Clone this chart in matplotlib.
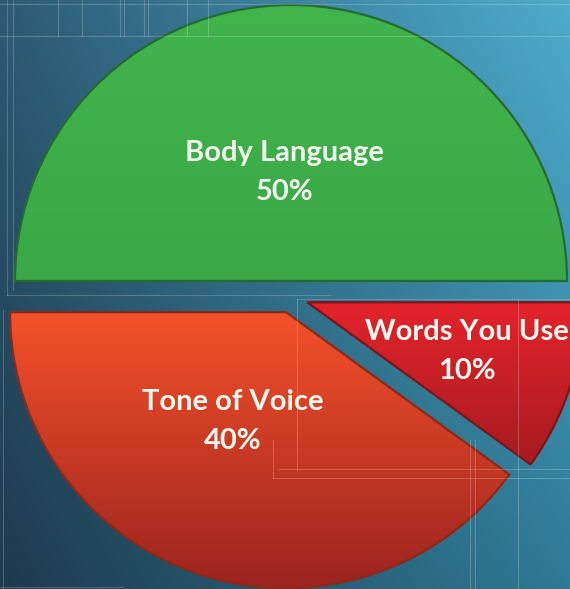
import numpy as np
import matplotlib
matplotlib.use("Agg")
import matplotlib.pyplot as plt
from matplotlib.colors import to_rgb

# ---- data ----
categories = ["Body Language", "Tone of Voice", "Words You Use"]
values = [50, 40, 10]
explode = [0.058, 0.058, 0.062]

# ---- style ----
top_colors = ["#42b44c", "#f4512a", "#e4232c"]
bottom_colors = ["#3aa847", "#9c231f", "#a61b21"]
edge_colors = ["#246b31", "#8c2a1a", "#7c1518"]
label_dist = [0.395, 0.44, 0.605]
label_shift = [3.5, -8, 1]

W, H = 570, 589
fig = plt.figure(figsize=(W / 100, H / 100), dpi=100)

# background gradient
bg = fig.add_axes([0, 0, 1, 1])
bg.set_axis_off()
tl, tr, bl, br = [np.array(to_rgb(c)) for c in ["#2d5a74", "#4eaccd", "#1e3a4d", "#2f7a96"]]
u = np.linspace(0, 1, W)[None, :, None]
v = np.linspace(0, 1, H)[:, None, None]
img = (1 - v) * ((1 - u) * tl + u * tr) + v * ((1 - u) * bl + u * br)
bg.imshow(img, extent=[0, W, H, 0], aspect="auto")
bg.set_xlim(0, W)
bg.set_ylim(H, 0)

# pie
ax = fig.add_axes([0, 0, 1, 1])
ax.set_facecolor("none")
wedges, _ = ax.pie(values, explode=explode, startangle=0, counterclock=True,
                   radius=1, wedgeprops=dict(linewidth=1.6))

for i, w in enumerate(wedges):
    w.set_facecolor("none")
    w.set_edgecolor(edge_colors[i])
    w.set_zorder(3)
    ext = w.get_path().get_extents()
    c0 = np.array(to_rgb(top_colors[i]))
    c1 = np.array(to_rgb(bottom_colors[i]))
    t = np.linspace(0, 1, 256)[:, None, None]
    grad = (1 - t) * c0 + t * c1
    grad = np.repeat(grad, 2, axis=1)
    im = ax.imshow(grad, extent=[ext.x0, ext.x1, ext.y0, ext.y1], origin="upper",
                   aspect="auto", zorder=2, interpolation="bilinear")
    im.set_clip_path(w)

    tm = np.deg2rad((w.theta1 + w.theta2) / 2 + label_shift[i])
    cx, cy = w.center
    ax.text(cx + label_dist[i] * np.cos(tm), cy + label_dist[i] * np.sin(tm),
            f"{categories[i]}\n{values[i]}%", ha="center", va="center",
            multialignment="center", color="#f3f8ef", fontsize=21,
            fontweight="bold", family="Lato", linespacing=1.62, zorder=5)

cxp, cyp, rp = 291, 297, 276
ax.set_xlim(-cxp / rp, (W - cxp) / rp)
ax.set_ylim(-(H - cyp) / rp, cyp / rp)
ax.set_aspect("auto")
ax.set_axis_off()

# faint decorative guide lines
ov = fig.add_axes([0, 0, 1, 1])
ov.set_facecolor("none")
ov.set_axis_off()
ov.set_xlim(0, W)
ov.set_ylim(H, 0)
hlines = [(0, 570, 4), (0, 570, 36), (7, 330, 295), (297, 570, 299),
          (278, 570, 469), (273, 570, 478), (0, 123, 587)]
vlines = [(7, 0, 295), (13, 0, 290), (58, 0, 36), (82, 0, 36), (120, 0, 36),
          (124, 0, 36), (144, 0, 36), (148, 0, 36), (187, 0, 36), (208, 0, 36),
          (3, 310, 589), (297, 299, 470), (518, 299, 589), (273, 440, 478),
          (470, 440, 589), (475, 440, 589)]
for x0, x1, y in hlines:
    ov.plot([x0, x1], [y, y], color="white", alpha=0.2, lw=0.8, zorder=10)
for x, y0, y1 in vlines:
    ov.plot([x, x], [y0, y1], color="white", alpha=0.2, lw=0.8, zorder=10)

fig.savefig("out.png", dpi=100)
